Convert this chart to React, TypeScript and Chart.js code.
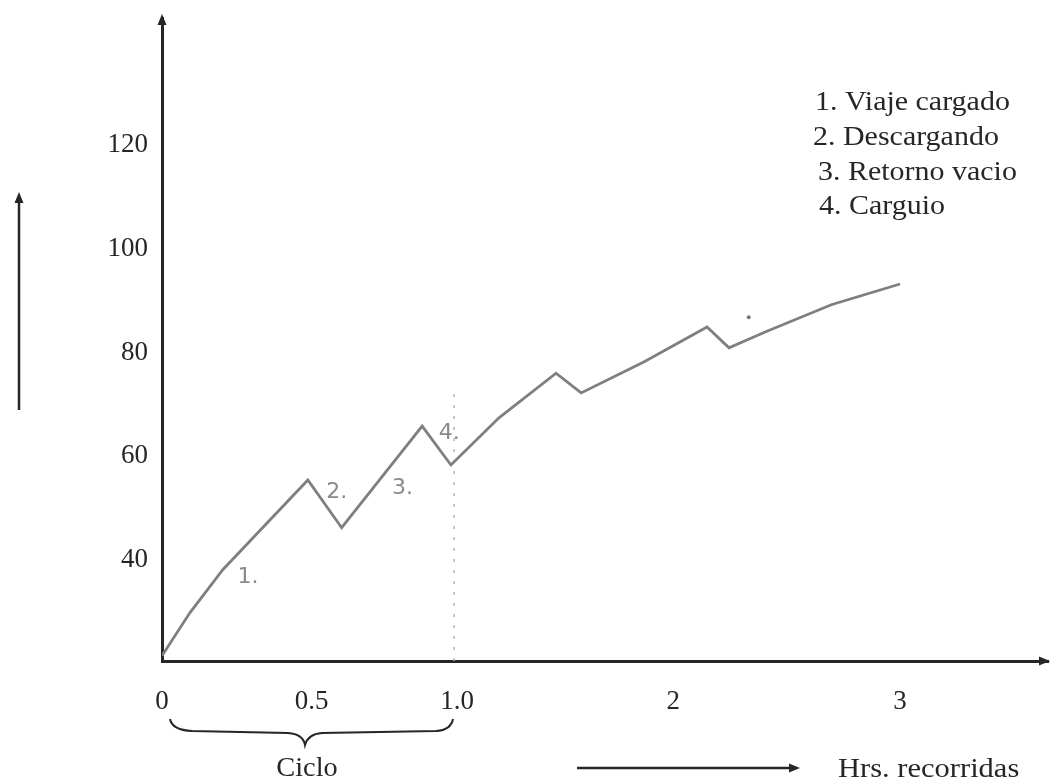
import React, { useEffect, useRef } from 'react';
import { Chart, registerables, LinearScale } from 'chart.js';

// curve: hours travelled vs. value
const HOURS = [0, 0.093, 0.203, 0.487, 0.603, 0.88, 0.979, 1.194, 1.458, 1.574, 1.866, 2.149, 2.246, 2.408, 2.697, 3.0];
const LOAD = [21.5, 29.8, 38.1, 55.4, 46.2, 65.8, 58.3, 67.4, 76.0, 72.2, 78.2, 84.9, 80.9, 84.0, 89.2, 93.2];

// the little pencil dot above the last dip
const DOT_HOURS = [2.333];
const DOT_LOAD = [86.8];

// dotted line marking the end of the first cycle
const CYCLE_HOURS = [0.99, 0.99];
const CYCLE_LOAD = [20.5, 73.4];

const X_TICKS = [0, 0.5, 1, 2, 3];
const X_TICK_LABELS = ['0', '0.5', '1.0', '2', '3'];
const Y_TICKS = [40, 60, 80, 100, 120];

const STAGE_LABELS = ['1.', '2.', '3.', '4.'];
const STAGE_HOURS = [0.287, 0.586, 0.812, 0.973];
const STAGE_LOAD = [36.7, 53.1, 53.9, 64.5];

const LEGEND_LINES = ['1. Viaje cargado', '2. Descargando', '3. Retorno vacio', '4. Carguio'];

// hand drawn axis is not evenly spaced, so the x scale is piecewise
const X_KNOTS = [0, 0.5, 1, 2, 3, 3.65];
const X_KNOT_FRAC = [0, 0.169, 0.333, 0.577, 0.833, 1];

const SERIF = "'Liberation Serif', 'Times New Roman', serif";
const INK = '#262626';
const PENCIL = '#8a8a8a';

class SketchHoursScale extends LinearScale {
    static id = 'sketchHours';
    static defaults = LinearScale.defaults;

    getPixelForValue(value: number) {
        if (value === null || isNaN(value)) return NaN;
        let i = 0;
        while (i < X_KNOTS.length - 2 && value > X_KNOTS[i + 1]) i++;
        const t = (value - X_KNOTS[i]) / (X_KNOTS[i + 1] - X_KNOTS[i]);
        return this.getPixelForDecimal(X_KNOT_FRAC[i] + t * (X_KNOT_FRAC[i + 1] - X_KNOT_FRAC[i]));
    }

    getValueForPixel(pixel: number) {
        const d = this.getDecimalForPixel(pixel);
        let i = 0;
        while (i < X_KNOT_FRAC.length - 2 && d > X_KNOT_FRAC[i + 1]) i++;
        const t = (d - X_KNOT_FRAC[i]) / (X_KNOT_FRAC[i + 1] - X_KNOT_FRAC[i]);
        return X_KNOTS[i] + t * (X_KNOTS[i + 1] - X_KNOTS[i]);
    }
}

Chart.register(...registerables, SketchHoursScale);

function arrowHead(ctx: CanvasRenderingContext2D, tx: number, ty: number, dir: 'up' | 'right') {
    ctx.beginPath();
    if (dir === 'up') {
        ctx.moveTo(tx, ty);
        ctx.lineTo(tx - 4.5, ty + 11);
        ctx.lineTo(tx + 4.5, ty + 11);
    } else {
        ctx.moveTo(tx, ty);
        ctx.lineTo(tx - 11, ty - 4.5);
        ctx.lineTo(tx - 11, ty + 4.5);
    }
    ctx.closePath();
    ctx.fill();
}

// the scanned lettering is a bit wider than Times, stretch it sideways
function wideText(ctx: CanvasRenderingContext2D, text: string, x: number, y: number, stretch = 1.1) {
    ctx.save();
    ctx.translate(x, y);
    ctx.scale(stretch, 1);
    ctx.fillText(text, 0, 0);
    ctx.restore();
}

const sketchMarks = {
    id: 'sketchMarks',
    afterDraw(chart: any) {
        const { ctx, chartArea: a, scales } = chart;
        const xs = scales.x;
        const ys = scales.y;
        ctx.save();
        ctx.fillStyle = INK;
        ctx.strokeStyle = INK;

        // axis arrow heads
        arrowHead(ctx, a.left, a.top - 4, 'up');
        arrowHead(ctx, a.right + 2, a.bottom, 'right');

        // loose arrow on the left
        ctx.lineWidth = 2.5;
        ctx.beginPath();
        ctx.moveTo(19, 410);
        ctx.lineTo(19, 200);
        ctx.stroke();
        arrowHead(ctx, 19, 192, 'up');

        // arrow next to the x caption
        ctx.beginPath();
        ctx.moveTo(577, 768);
        ctx.lineTo(790, 768);
        ctx.stroke();
        arrowHead(ctx, 800, 768, 'right');

        // brace under the first cycle
        ctx.lineWidth = 2;
        ctx.beginPath();
        ctx.moveTo(170, 719);
        ctx.quadraticCurveTo(172, 730, 192, 731);
        ctx.lineTo(288, 733);
        ctx.quadraticCurveTo(303, 734, 305, 745);
        ctx.quadraticCurveTo(308, 734, 322, 733);
        ctx.lineTo(436, 731);
        ctx.quadraticCurveTo(451, 730, 453, 719);
        ctx.stroke();

        ctx.font = `27px ${SERIF}`;
        ctx.textBaseline = 'middle';
        ctx.textAlign = 'center';
        wideText(ctx, 'Ciclo', 307, 769, 1.05);
        ctx.textAlign = 'left';
        wideText(ctx, 'Hrs. recorridas', 838, 770, 1.13);

        // legend block, slightly staggered like the scan
        const lx = [815, 813, 818, 819];
        const ly = [103, 138, 173, 207];
        LEGEND_LINES.forEach((t, i) => wideText(ctx, t, lx[i], ly[i], 1.11));

        // pencil numbers along the curve
        ctx.fillStyle = PENCIL;
        ctx.font = "22px 'DejaVu Sans', sans-serif";
        ctx.textAlign = 'center';
        STAGE_LABELS.forEach((t, i) => {
            ctx.fillText(t, xs.getPixelForValue(STAGE_HOURS[i]), ys.getPixelForValue(STAGE_LOAD[i]));
        });
        ctx.restore();
    },
};

const App: React.FC = () => {
    const canvasRef = useRef<HTMLCanvasElement>(null);
    const chartRef = useRef<Chart>();

    useEffect(() => {
        if (!canvasRef.current) return;

        chartRef.current = new Chart(canvasRef.current, {
            type: 'line',
            data: {
                datasets: [
                    {
                        label: 'ciclo',
                        data: HOURS.map((h, i) => ({ x: h, y: LOAD[i] })),
                        borderColor: '#7f7f7f',
                        borderWidth: 2.8,
                        pointRadius: 0,
                        tension: 0,
                    },
                    {
                        label: 'fin ciclo',
                        data: CYCLE_HOURS.map((h, i) => ({ x: h, y: CYCLE_LOAD[i] })),
                        borderColor: '#b4b4b4',
                        borderWidth: 1.5,
                        borderDash: [3, 8],
                        pointRadius: 0,
                    },
                    {
                        label: 'punto',
                        data: DOT_HOURS.map((h, i) => ({ x: h, y: DOT_LOAD[i] })),
                        showLine: false,
                        pointRadius: 2,
                        pointBackgroundColor: '#777',
                        pointBorderWidth: 0,
                    },
                ],
            } as any,
            options: {
                animation: false,
                responsive: false,
                layout: { padding: { top: 18, right: 2, left: 0, bottom: 0 } },
                plugins: {
                    legend: { display: false },
                    tooltip: { enabled: false },
                },
                scales: {
                    x: {
                        type: 'sketchHours' as any,
                        min: 0,
                        max: 3.65,
                        grid: { display: false, drawTicks: false },
                        border: { display: true, color: INK, width: 3 },
                        afterBuildTicks: (axis: any) => {
                            axis.ticks = X_TICKS.map(value => ({ value }));
                        },
                        afterFit: (axis: any) => {
                            axis.height = 123;
                            axis.paddingLeft = 0;
                            axis.paddingRight = 0;
                        },
                        ticks: {
                            autoSkip: false,
                            maxRotation: 0,
                            padding: 25,
                            color: INK,
                            font: { family: SERIF, size: 27 },
                            callback: (_v: any, index: number) => X_TICK_LABELS[index],
                        },
                    },
                    y: {
                        type: 'linear',
                        min: 20.5,
                        max: 144.5,
                        grid: { display: false, drawTicks: false },
                        border: { display: true, color: INK, width: 3 },
                        afterBuildTicks: (axis: any) => {
                            axis.ticks = Y_TICKS.map(value => ({ value }));
                        },
                        afterFit: (axis: any) => {
                            axis.width = 162;
                            axis.paddingTop = 0;
                            axis.paddingBottom = 0;
                        },
                        ticks: {
                            padding: 14,
                            color: INK,
                            font: { family: SERIF, size: 27 },
                            callback: (v: any) => String(v),
                        },
                    },
                },
            } as any,
            plugins: [sketchMarks],
        });

        return () => {
            if (chartRef.current) {
                chartRef.current.destroy();
            }
        };
    }, []);

    return (
        <div style={{ position: 'absolute', left: 0, top: 0, width: 1052, height: 784, background: '#fff' }}>
            <canvas ref={canvasRef} width={1052} height={784} style={{ width: 1052, height: 784 }} />
        </div>
    );
};

export default App;
